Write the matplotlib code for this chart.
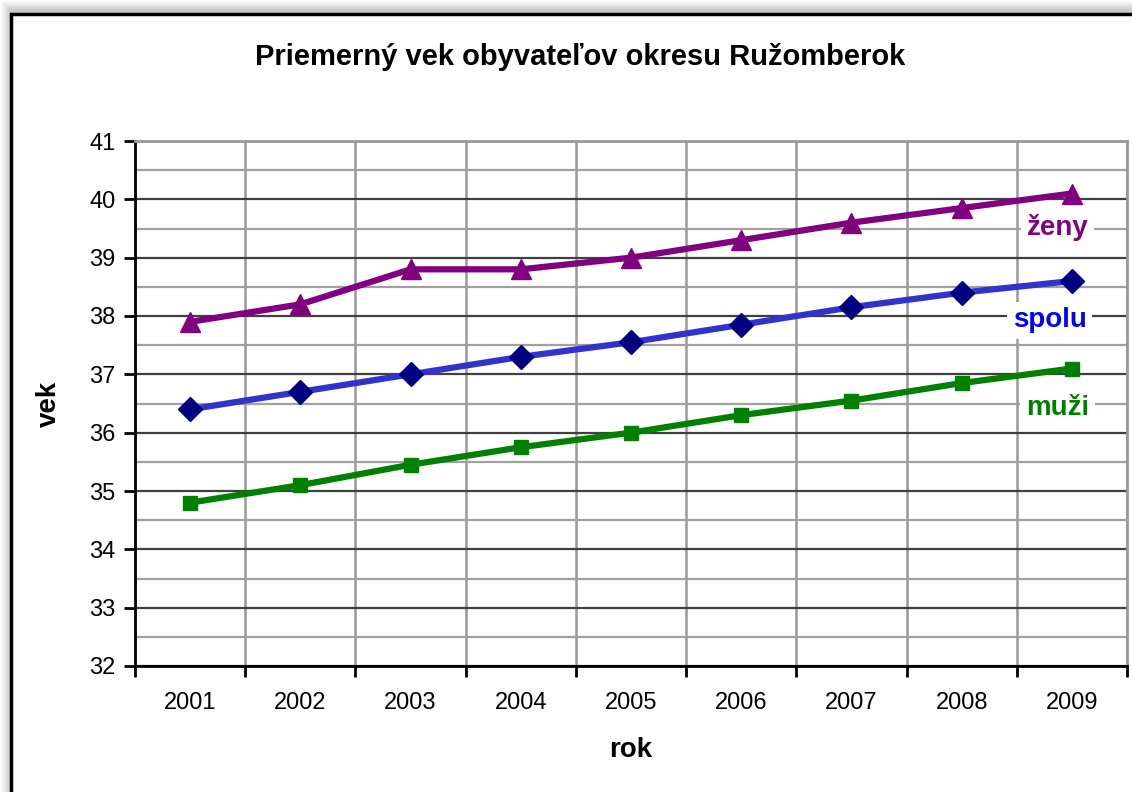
import numpy as np
import matplotlib.pyplot as plt
from matplotlib.patches import Rectangle

plt.rcParams['font.family'] = ['Liberation Sans', 'DejaVu Sans']

# data
roky = ['2001', '2002', '2003', '2004', '2005', '2006', '2007', '2008', '2009']
zeny = [37.9, 38.2, 38.8, 38.8, 39.0, 39.3, 39.6, 39.85, 40.1]
spolu = [36.4, 36.7, 37.0, 37.3, 37.55, 37.85, 38.15, 38.4, 38.6]
muzi = [34.8, 35.1, 35.45, 35.75, 36.0, 36.3, 36.55, 36.85, 37.1]

fig = plt.figure(figsize=(11.32, 7.92), dpi=100)

# shadow + outer frame
for i, a in enumerate([0.05, 0.07, 0.09, 0.12, 0.15]):
    off = (10 - 2 * i) / 1132
    offy = (13 - 2 * i) / 792
    fig.patches.append(Rectangle((11 / 1132 - off, 0), 1.0, 1 - 14 / 792 + offy,
                                 transform=fig.transFigure, facecolor='gray',
                                 edgecolor='none', alpha=a, zorder=-3))
fig.patches.append(Rectangle((11 / 1132, -0.01), 1.0, 1 - 14 / 792 + 0.01,
                             transform=fig.transFigure, facecolor='white',
                             edgecolor='black', linewidth=2.5, zorder=-2))

ax = fig.add_axes([135 / 1132, 1 - 666 / 792, (1127 - 135) / 1132, (666 - 141) / 792])
ax.set_facecolor('white')
x = np.arange(len(roky))

ax.plot(x, zeny, color='#800080', lw=4.5, marker='^', markersize=15,
        markerfacecolor='#800080', markeredgecolor='#800080', zorder=5)
ax.plot(x, spolu, color='#3333CC', lw=4.5, marker='D', markersize=12,
        markerfacecolor='#000080', markeredgecolor='#000080', zorder=5)
ax.plot(x, muzi, color='#008000', lw=4.5, marker='s', markersize=10,
        markerfacecolor='#008000', markeredgecolor='#008000', zorder=5)

ax.set_xlim(-0.5, len(roky) - 0.5)
ax.set_ylim(32, 41)

ax.set_xticks(x)
ax.set_xticklabels(roky, fontsize=17)
ax.set_xticks(np.arange(len(roky) + 1) - 0.5, minor=True)
ax.tick_params(axis='x', which='major', length=0, pad=19)
ax.tick_params(axis='x', which='minor', length=8, width=2, direction='out')

ax.set_yticks(np.arange(32, 42, 1))
ax.set_yticks(np.arange(32.5, 41, 1), minor=True)
ax.tick_params(axis='y', which='major', labelsize=17, length=8, width=2, direction='out', pad=6)
ax.tick_params(axis='y', which='minor', length=0)

ax.grid(axis='y', which='major', color='#404040', lw=1.6, zorder=1)
ax.grid(axis='y', which='minor', color='#A0A0A0', lw=1.6, zorder=1)
ax.grid(axis='x', which='minor', color='#999999', lw=1.8, zorder=1)
ax.grid(axis='x', which='major', visible=False)
ax.set_axisbelow(True)

for s in ['top', 'right']:
    ax.spines[s].set_color('#999999')
    ax.spines[s].set_linewidth(2)
for s in ['left', 'bottom']:
    ax.spines[s].set_color('black')
    ax.spines[s].set_linewidth(2)

ax.set_xlabel('rok', fontsize=20, fontweight='bold', labelpad=16)
ax.set_ylabel('vek', fontsize=20, fontweight='bold', labelpad=20)

fig.text(580 / 1132, 1 - 57 / 792, 'Priemerný vek obyvateľov okresu Ružomberok',
         ha='center', va='center', fontsize=21, fontweight='bold')

box = dict(facecolor='white', edgecolor='none', pad=4)
ax.text(7.87, 39.51, 'ženy', color='#800080', fontsize=20, fontweight='bold',
        ha='center', va='center', bbox=box, zorder=6)
ax.text(7.8, 37.93, 'spolu', color='#0000FF', fontsize=20, fontweight='bold',
        ha='center', va='center', bbox=box, zorder=6)
ax.text(7.87, 36.42, 'muži', color='#008000', fontsize=20, fontweight='bold',
        ha='center', va='center', bbox=box, zorder=6)

fig.savefig('out.png', dpi=100)
